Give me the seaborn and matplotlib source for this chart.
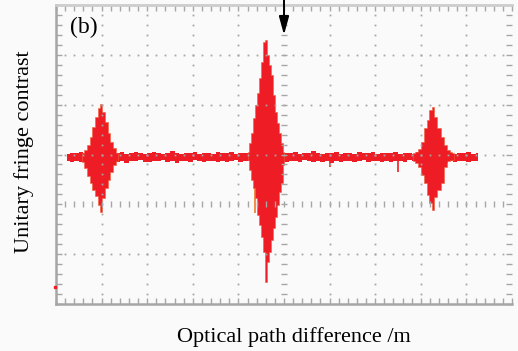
import matplotlib
matplotlib.use('Agg')
import matplotlib.pyplot as plt
from matplotlib.ticker import MultipleLocator
import numpy as np
import seaborn as sns

# scope screen units: 10 divisions across, 6 divisions up

# noise band of the baseline
base_x = [0.25, 0.35, 0.45, 0.55, 0.65, 0.75, 0.85, 0.95, 1.05, 1.15,
          1.25, 1.35, 1.45, 1.55, 1.65, 1.75, 1.85, 1.95, 2.05, 2.15,
          2.25, 2.35, 2.45, 2.55, 2.65, 2.75, 2.85, 2.95, 3.05, 3.15,
          3.25, 3.35, 3.45, 3.55, 3.65, 3.75, 3.85, 3.95, 4.05, 4.15,
          4.25, 4.35, 4.45, 4.55, 4.65, 4.75, 4.85, 4.95, 5.05, 5.15,
          5.25, 5.35, 5.45, 5.55, 5.65, 5.75, 5.85, 5.95, 6.05, 6.15,
          6.25, 6.35, 6.45, 6.55, 6.65, 6.75, 6.85, 6.95, 7.05, 7.15,
          7.25, 7.35, 7.45, 7.55, 7.65, 7.75, 7.85, 7.95, 8.05, 8.15,
          8.25, 8.35, 8.45, 8.55, 8.65, 8.75, 8.85, 8.95, 9.05, 9.15,
          9.25]
base_hi = [3.02, 3.04, 3.03, 3.05, 3.03, 3.02, 3.04, 3.06, 3.03, 3.02,
           3.04, 3.03, 3.05, 3.02, 3.03, 3.06, 3.04, 3.02, 3.03, 3.05,
           3.03, 3.02, 3.04, 3.07, 3.03, 3.02, 3.04, 3.03, 3.05, 3.02,
           3.04, 3.03, 3.02, 3.05, 3.03, 3.04, 3.06, 3.02, 3.03, 3.04,
           3.03, 3.05, 3.02, 3.04, 3.03, 3.06, 3.03, 3.02, 3.04, 3.03,
           3.05, 3.02, 3.03, 3.04, 3.07, 3.03, 3.02, 3.04, 3.03, 3.05,
           3.02, 3.04, 3.03, 3.02, 3.05, 3.03, 3.04, 3.06, 3.02, 3.03,
           3.04, 3.03, 3.05, 3.02, 3.03, 3.04, 3.02, 3.05, 3.03, 3.04,
           3.03, 3.02, 3.04, 3.06, 3.03, 3.02, 3.04, 3.03, 3.05, 3.02,
           3.03]
base_lo = [2.86, 2.84, 2.87, 2.85, 2.88, 2.86, 2.83, 2.87, 2.85, 2.86,
           2.87, 2.85, 2.86, 2.83, 2.87, 2.86, 2.88, 2.85, 2.84, 2.87,
           2.86, 2.88, 2.85, 2.86, 2.83, 2.87, 2.86, 2.85, 2.88, 2.86,
           2.85, 2.87, 2.86, 2.84, 2.87, 2.85, 2.86, 2.88, 2.85, 2.86,
           2.87, 2.84, 2.86, 2.85, 2.87, 2.86, 2.83, 2.86, 2.85, 2.87,
           2.86, 2.85, 2.88, 2.86, 2.84, 2.87, 2.85, 2.86, 2.83, 2.87,
           2.85, 2.86, 2.87, 2.84, 2.86, 2.88, 2.85, 2.86, 2.87, 2.85,
           2.86, 2.84, 2.87, 2.86, 2.85, 2.88, 2.86, 2.84, 2.87, 2.86,
           2.85, 2.87, 2.86, 2.83, 2.86, 2.85, 2.87, 2.86, 2.84, 2.86,
           2.87]

# first burst (left)
b1_x = [0.57, 0.64, 0.70, 0.77, 0.83, 0.90, 0.94, 0.99, 1.03, 1.10, 1.16, 1.23, 1.29, 1.36]
b1_hi = [3.03, 3.09, 3.19, 3.35, 3.55, 3.75, 3.93, 4.01, 3.85, 3.65, 3.43, 3.25, 3.13, 3.03]
b1_lo = [2.85, 2.73, 2.57, 2.43, 2.29, 2.17, 1.99, 1.85, 2.13, 2.33, 2.49, 2.65, 2.79, 2.87]

# second burst (zero path difference, largest)
b2_x = [4.21, 4.25, 4.30, 4.34, 4.39, 4.43, 4.47, 4.52, 4.56, 4.61,
        4.65, 4.69, 4.74, 4.78, 4.83, 4.87, 4.91, 4.96, 5.00]
b2_hi = [3.05, 3.23, 3.43, 3.73, 3.99, 4.23, 4.54, 4.86, 5.26, 5.30,
         5.00, 4.80, 4.60, 4.19, 3.85, 3.63, 3.43, 3.23, 3.05]
b2_lo = [2.89, 2.69, 2.49, 2.33, 2.13, 1.79, 1.59, 1.35, 1.04, 0.44,
         0.84, 1.04, 1.28, 1.53, 1.75, 1.99, 2.25, 2.43, 2.79]

# third burst (right)
b3_x = [7.83, 7.90, 7.96, 8.03, 8.09, 8.16, 8.22, 8.27, 8.33, 8.40, 8.47, 8.53, 8.60, 8.66, 8.73]
b3_hi = [3.03, 3.05, 3.11, 3.25, 3.53, 3.69, 3.89, 3.95, 3.75, 3.53, 3.35, 3.19, 3.09, 3.05, 3.03]
b3_lo = [2.87, 2.83, 2.75, 2.59, 2.43, 2.19, 2.03, 1.89, 2.15, 2.29, 2.43, 2.75, 2.87, 2.89, 2.89]

# isolated downward glitches
spike_x = [4.37, 6.01, 7.50]
spike_lo = [1.83, 2.75, 2.65]
spike_col = ['#f07a2c', '#ee1c24', '#ee1c24']

RED = '#ee1c24'
GREY = '#a6a6a6'
BG = '#fafafa'

sns.set_theme(style='white')
plt.rcParams['font.family'] = ['Liberation Serif', 'DejaVu Serif']

fig = plt.figure(figsize=(5.18, 3.51), dpi=100, facecolor=BG)
ax = fig.add_axes([56 / 518, 47 / 351, 456 / 518, 299 / 351])
ax.set_facecolor(BG)
ax.set_xlim(0, 10)
ax.set_ylim(0, 6)

# signal
ax.fill_between(base_x, base_lo, base_hi, step='mid', color=RED, lw=0, zorder=2)
for bx, hi, lo in [(b1_x, b1_hi, b1_lo), (b2_x, b2_hi, b2_lo), (b3_x, b3_hi, b3_lo)]:
    ax.fill_between(bx, lo, hi, step='mid', color=RED, lw=0.4, edgecolor='#f2603a', zorder=2)
for sx, sl, sc in zip(spike_x, spike_lo, spike_col):
    ax.vlines(sx, sl, 2.95, color=sc, lw=1.2, zorder=1.9)
ax.plot([-0.03], [0.34], 's', ms=2, color=RED, clip_on=False, zorder=4)

# scope graticule
ax.xaxis.set_major_locator(MultipleLocator(1))
ax.xaxis.set_minor_locator(MultipleLocator(0.2))
ax.yaxis.set_major_locator(MultipleLocator(1))
ax.yaxis.set_minor_locator(MultipleLocator(0.2))
xs = MultipleLocator(0.2).tick_values(0, 10)
ys = MultipleLocator(0.2).tick_values(0, 6)
xs = xs[(xs > 0.01) & (xs < 9.99)]
ys = ys[(ys > 0.01) & (ys < 5.99)]
for xv in [1, 2, 3, 4, 6, 7, 8, 9]:
    ax.plot(np.full(len(ys), xv), ys, 's', ms=1.3, mew=0, color=GREY, zorder=3)
for yv in [1, 3, 4, 5]:
    ax.plot(xs, np.full(len(xs), yv), 's', ms=1.3, mew=0, color=GREY, zorder=3)
ax.plot(np.full(len(ys), 5), ys, '_', ms=5, mew=1, color=GREY, zorder=3)
ax.plot(xs, np.full(len(xs), 2), '|', ms=5, mew=1, color=GREY, zorder=3)

sns.despine(ax=ax, top=False, right=True, left=False, bottom=False)
ax.spines['left'].set_color(GREY)
ax.spines['left'].set_linewidth(1.8)
ax.spines['bottom'].set_color(GREY)
ax.spines['bottom'].set_linewidth(1.8)
ax.spines['top'].set_color('#cdcdcd')
ax.spines['top'].set_linewidth(2)
ax.tick_params(which='both', direction='in', top=True, right=True, bottom=True, left=True,
               length=4, width=1, color=GREY, labelbottom=False, labelleft=False)

# marker arrow at the top
ax.annotate('', xy=(5, 5.40), xytext=(5, 6.10), annotation_clip=False,
            arrowprops=dict(arrowstyle='-|>,head_length=1.1,head_width=0.3', mutation_scale=10,
                            lw=1.4, color='black', shrinkA=0, shrinkB=0), zorder=5)

ax.text(0.60, 5.54, '(b)', fontsize=17, ha='center', va='center', color='black')
fig.text(294 / 518, 1 - 337 / 351, 'Optical path difference /m', fontsize=16,
         ha='center', va='center', color='black')
fig.text(24 / 518, 1 - 152 / 351, 'Unitary fringe contrast', fontsize=16, rotation=90,
         ha='center', va='center', color='black')

fig.savefig('out.png', dpi=100, facecolor=BG)
